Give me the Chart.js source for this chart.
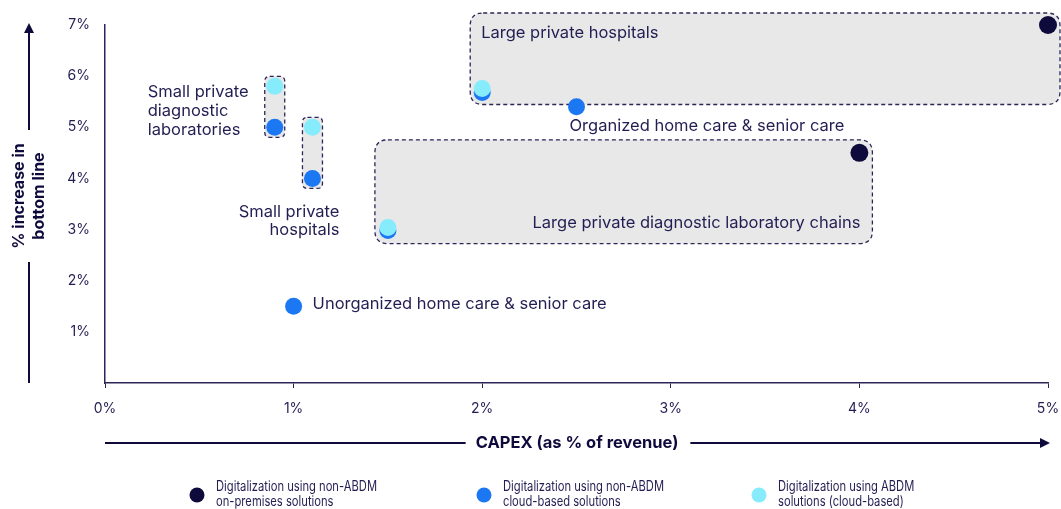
<!DOCTYPE html>
<html>
<head>
<meta charset="utf-8">
<script src="https://cdn.jsdelivr.net/npm/chart.js@4.4.0/dist/chart.umd.min.js"></script>
<style>
  html, body { margin: 0; padding: 0; background: #fff; }
</style>
</head>
<body>
<canvas id="capexChart" width="1061" height="509"></canvas>
<script>
// series labels (legend)
const seriesLabels = [
    'Digitalization using non-ABDM\non-premises solutions',
    'Digitalization using non-ABDM\ncloud-based solutions',
    'Digitalization using ABDM\nsolutions (cloud-based)'
];
// CAPEX (% of revenue) vs % increase in bottom line
const onPremX = [5.0, 4.0];
const onPremY = [7.0, 4.5];
const cloudX = [0.9, 1.1, 1.0, 1.5, 2.0, 2.5];
const cloudY = [5.0, 4.0, 1.5, 2.98, 5.68, 5.4];
const abdmX = [0.9, 1.1, 1.5, 2.0];
const abdmY = [5.8, 5.0, 3.04, 5.76];

const xTicks = [0, 1, 2, 3, 4, 5];
const yTicks = [1, 2, 3, 4, 5, 6, 7];

const navy = '#0f0a3c';
const blue = '#1b77f2';
const cyan = '#86ecfc';
const textColor = '#221d52';
const lineColor = '#2b2657';
const FONT = 'Inter, "Noto Sans", sans-serif';

// groups of points that get a dashed box: [dataset, index]
const groups = [
    { members: [[2, 0], [1, 0]], pad: 10 },
    { members: [[2, 1], [1, 1]], pad: 10 },
    { members: [[0, 0], [1, 4], [2, 3]], pad: 12 },
    { members: [[0, 1], [1, 3], [2, 2]], pad: 13 }
];

function toXY(arrX, arrY) {
    return arrX.map((x, i) => ({ x: x, y: arrY[i] }));
}

function roundRect(ctx, x, y, w, h, r) {
    ctx.beginPath();
    ctx.moveTo(x + r, y);
    ctx.lineTo(x + w - r, y);
    ctx.quadraticCurveTo(x + w, y, x + w, y + r);
    ctx.lineTo(x + w, y + h - r);
    ctx.quadraticCurveTo(x + w, y + h, x + w - r, y + h);
    ctx.lineTo(x + r, y + h);
    ctx.quadraticCurveTo(x, y + h, x, y + h - r);
    ctx.lineTo(x, y + r);
    ctx.quadraticCurveTo(x, y, x + r, y);
    ctx.closePath();
}

function groupBox(chart, g) {
    let x0 = Infinity, x1 = -Infinity, y0 = Infinity, y1 = -Infinity;
    g.members.forEach(([d, i]) => {
        const el = chart.getDatasetMeta(d).data[i];
        x0 = Math.min(x0, el.x); x1 = Math.max(x1, el.x);
        y0 = Math.min(y0, el.y); y1 = Math.max(y1, el.y);
    });
    return { x0: x0 - g.pad, y0: y0 - g.pad, x1: x1 + g.pad, y1: y1 + g.pad };
}

// condensed text helper
function squeezeText(ctx, t, x, y, sx) {
    ctx.save();
    ctx.translate(x, y);
    ctx.scale(sx, 1);
    ctx.fillText(t, 0, 0);
    ctx.restore();
}

const boxPlugin = {
    id: 'boxes',
    beforeDatasetsDraw(chart) {
        const ctx = chart.ctx;
        ctx.save();
        groups.forEach(g => {
            const b = groupBox(chart, g);
            roundRect(ctx, b.x0, b.y0, b.x1 - b.x0, b.y1 - b.y0, g.pad >= 12 ? 13 : 5);
            ctx.fillStyle = '#e8e8e8';
            ctx.fill();
            ctx.setLineDash([4, 3]);
            ctx.lineWidth = 1.3;
            ctx.strokeStyle = lineColor;
            ctx.stroke();
        });
        ctx.restore();
    },
    afterDraw(chart) {
        const ctx = chart.ctx;
        const area = chart.chartArea;
        const pt = (d, i) => chart.getDatasetMeta(d).data[i];
        ctx.save();
        ctx.fillStyle = textColor;
        ctx.font = '16.5px ' + FONT;
        ctx.textBaseline = 'middle';

        // category labels
        const bLabs = groupBox(chart, groups[0]);
        ctx.textAlign = 'left';
        ['Small private', 'diagnostic', 'laboratories'].forEach((t, k) => {
            ctx.fillText(t, bLabs.x0 - 117, bLabs.y0 + 16 + k * 19);
        });
        const bHosp = groupBox(chart, groups[1]);
        ctx.textAlign = 'right';
        ['Small private', 'hospitals'].forEach((t, k) => {
            ctx.fillText(t, bHosp.x1 + 17, bHosp.y1 + 24 + k * 18);
        });
        const bLarge = groupBox(chart, groups[2]);
        ctx.textAlign = 'left';
        ctx.fillText('Large private hospitals', bLarge.x0 + 11, bLarge.y0 + 20);
        const bChains = groupBox(chart, groups[3]);
        ctx.textAlign = 'right';
        ctx.fillText('Large private diagnostic laboratory chains', bChains.x1 - 12, bChains.y1 - 21);
        const unorg = pt(1, 2);
        ctx.textAlign = 'left';
        ctx.fillText('Unorganized home care & senior care', unorg.x + 19, unorg.y - 2);
        const org = pt(1, 5);
        ctx.fillText('Organized home care & senior care', org.x - 7, org.y + 19);

        // y axis title with arrow
        ctx.strokeStyle = navy;
        ctx.fillStyle = navy;
        ctx.lineWidth = 2;
        ctx.setLineDash([]);
        const ax = 29;
        const midY = 196;
        ctx.beginPath();
        ctx.moveTo(ax, area.bottom);
        ctx.lineTo(ax, midY + 66);
        ctx.moveTo(ax, midY - 66);
        ctx.lineTo(ax, area.top + 4);
        ctx.stroke();
        ctx.beginPath();
        ctx.moveTo(ax, area.top - 2);
        ctx.lineTo(ax - 5, area.top + 8);
        ctx.lineTo(ax + 5, area.top + 8);
        ctx.closePath();
        ctx.fill();
        ctx.save();
        ctx.translate(ax, midY);
        ctx.rotate(-Math.PI / 2);
        ctx.font = 'bold 16px ' + FONT;
        ctx.textAlign = 'center';
        ctx.fillText('% increase in', 0, -10);
        ctx.fillText('bottom line', 0, 10);
        ctx.restore();

        // x axis title with arrow
        const ay = 443;
        ctx.font = 'bold 16.5px ' + FONT;
        ctx.textAlign = 'center';
        const title = 'CAPEX (as % of revenue)';
        const cx = 577;
        const tw = ctx.measureText(title).width;
        ctx.fillText(title, cx, ay);
        ctx.beginPath();
        ctx.moveTo(area.left, ay);
        ctx.lineTo(cx - tw / 2 - 10, ay);
        ctx.moveTo(cx + tw / 2 + 12, ay);
        ctx.lineTo(area.right - 4, ay);
        ctx.stroke();
        ctx.beginPath();
        ctx.moveTo(area.right + 2, ay);
        ctx.lineTo(area.right - 8, ay - 5);
        ctx.lineTo(area.right - 8, ay + 5);
        ctx.closePath();
        ctx.fill();

        // legend
        const legX = [197, 484, 759];
        const legY = 495;
        ctx.font = '14px ' + FONT;
        ctx.textAlign = 'left';
        chart.data.datasets.forEach((ds, i) => {
            ctx.fillStyle = ds.backgroundColor;
            ctx.beginPath();
            ctx.arc(legX[i], legY, 7.5, 0, Math.PI * 2);
            ctx.fill();
            ctx.fillStyle = textColor;
            ds.label.split('\n').forEach((t, k) => {
                squeezeText(ctx, t, legX[i] + 19, legY - 8 + k * 15, 0.8);
            });
        });
        ctx.restore();
    }
};

const ctx = document.getElementById('capexChart').getContext('2d');
const capexChart = new Chart(ctx, {
    type: 'scatter',
    data: {
        datasets: [
            {
                label: seriesLabels[0],
                data: toXY(onPremX, onPremY),
                backgroundColor: navy,
                borderWidth: 0,
                pointRadius: 9,
                clip: false,
                order: 2
            },
            {
                label: seriesLabels[1],
                data: toXY(cloudX, cloudY),
                backgroundColor: blue,
                borderWidth: 0,
                pointRadius: 8.5,
                clip: false,
                order: 1
            },
            {
                label: seriesLabels[2],
                data: toXY(abdmX, abdmY),
                backgroundColor: cyan,
                borderWidth: 0,
                pointRadius: 8.5,
                clip: false,
                order: 0
            }
        ]
    },
    options: {
        responsive: false,
        animation: false,
        devicePixelRatio: 1,
        layout: { padding: { left: 0, right: 13, top: 25, bottom: 0 } },
        scales: {
            x: {
                type: 'linear',
                min: 0,
                max: 5,
                afterBuildTicks: s => { s.ticks = xTicks.map(v => ({ value: v })); },
                afterFit: s => { s.height = 126; s.paddingLeft = 0; s.paddingRight = 0; },
                ticks: {
                    color: textColor,
                    font: { size: 14, family: FONT },
                    padding: 12,
                    callback: v => v + '%'
                },
                grid: { drawOnChartArea: false, drawTicks: true, tickLength: 5, color: lineColor },
                border: { display: true, color: lineColor, width: 1.5 }
            },
            y: {
                type: 'linear',
                min: 0,
                max: 7,
                afterBuildTicks: s => { s.ticks = yTicks.map(v => ({ value: v })); },
                afterFit: s => { s.width = 105; },
                ticks: {
                    color: textColor,
                    font: { size: 14, family: FONT },
                    padding: 15,
                    callback: v => v + '%'
                },
                grid: { drawOnChartArea: false, drawTicks: false },
                border: { display: true, color: lineColor, width: 1.5 }
            }
        },
        plugins: {
            legend: { display: false },
            tooltip: { enabled: false }
        }
    },
    plugins: [boxPlugin]
});
</script>
</body>
</html>
